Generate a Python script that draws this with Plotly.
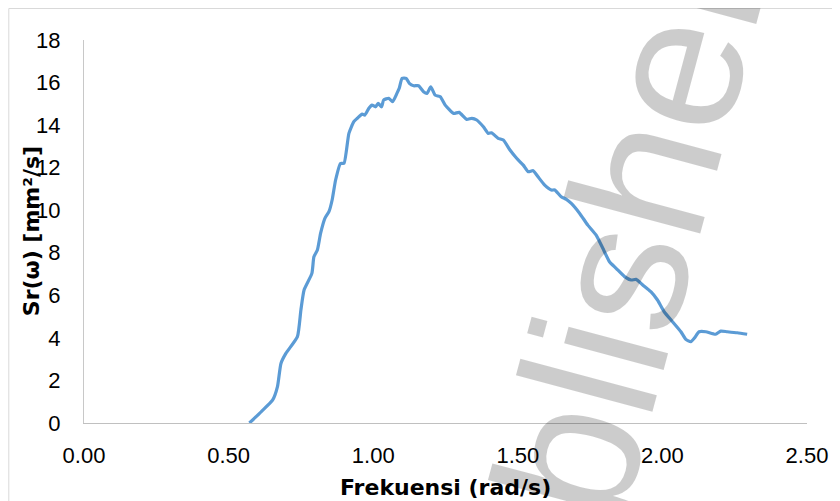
import plotly.graph_objects as go

freq = [0.572, 0.614, 0.652, 0.669, 0.681, 0.698, 0.738, 0.750, 0.761, 0.788,
        0.795, 0.807, 0.818, 0.833, 0.847, 0.858, 0.870, 0.887, 0.899, 0.916,
        0.933, 0.945, 0.962, 0.971, 0.985, 0.996, 1.008, 1.017, 1.029, 1.036,
        1.054, 1.067, 1.082, 1.090, 1.100, 1.114, 1.125, 1.140, 1.157, 1.174,
        1.186, 1.199, 1.214, 1.232, 1.249, 1.278, 1.297, 1.323, 1.341, 1.358,
        1.381, 1.398, 1.409, 1.432, 1.450, 1.473, 1.496, 1.519, 1.536, 1.553,
        1.570, 1.593, 1.616, 1.628, 1.650, 1.668, 1.685, 1.714, 1.742, 1.771,
        1.794, 1.817, 1.840, 1.869, 1.892, 1.909, 1.932, 1.960, 1.983, 2.006,
        2.035, 2.064, 2.081, 2.098, 2.110, 2.127, 2.150, 2.184, 2.202, 2.224,
        2.259, 2.293]
sr = [0.00, 0.55, 1.07, 1.71, 2.80, 3.27, 4.06, 5.31, 6.25, 7.03,
      7.81, 8.13, 8.91, 9.62, 9.93, 10.48, 11.42, 12.20, 12.20, 13.61,
      14.16, 14.32, 14.52, 14.47, 14.79, 14.94, 14.86, 15.02, 14.86, 15.18,
      15.26, 15.10, 15.49, 15.73, 16.20, 16.20, 15.96, 15.85, 15.85, 15.57,
      15.49, 15.80, 15.41, 15.33, 14.94, 14.55, 14.60, 14.27, 14.32, 14.24,
      13.92, 13.61, 13.64, 13.38, 13.30, 12.83, 12.44, 12.12, 11.81, 11.86,
      11.57, 11.18, 10.95, 10.95, 10.63, 10.51, 10.32, 9.85, 9.30, 8.83,
      8.21, 7.58, 7.27, 6.88, 6.72, 6.75, 6.49, 6.17, 5.78, 5.23,
      4.76, 4.29, 3.93, 3.82, 3.98, 4.29, 4.29, 4.17, 4.32, 4.29,
      4.24, 4.17]

x_ticks = [0.0, 0.5, 1.0, 1.5, 2.0, 2.5]
x_tick_labels = ["0.00", "0.50", "1.00", "1.50", "2.00", "2.50"]
y_ticks = [0, 2, 4, 6, 8, 10, 12, 14, 16, 18]

x_title = "Frekuensi (rad/s)"
y_title = "Sr(ω) [mm²/s]"
watermark = "Publisher"

# page body has an 8px margin, so the figure is drawn 8px smaller and offset
OFF = 8
W, H = 840 - OFF, 501 - OFF
ML, MR, MT, MB = 84 - OFF, 30, 40 - OFF, 78
PW, PH = W - ML - MR, H - MT - MB


def px_x(p):  # window pixel -> paper x
    return (p - OFF - ML) / PW


def px_y(p):  # window pixel -> paper y
    return (H - MB - (p - OFF)) / PH


fig = go.Figure()
fig.add_trace(go.Scatter(
    x=freq, y=sr, mode="lines",
    line=dict(color="#5B9BD5", width=3.2, shape="spline", smoothing=0.5),
    showlegend=False, hoverinfo="skip",
))

tick_font = dict(family="Liberation Sans, Arial, sans-serif", size=22, color="#000000")
title_font = dict(family="DejaVu Sans, Verdana, sans-serif", size=22, color="#000000")

fig.update_layout(
    width=W, height=H,
    margin=dict(l=ML, r=MR, t=MT, b=MB, pad=0),
    paper_bgcolor="white", plot_bgcolor="white",
    xaxis=dict(range=[0, 2.5], tickvals=x_ticks, ticktext=x_tick_labels,
               showgrid=False, zeroline=False, showline=True, linecolor="#c0c0c0",
               linewidth=1, ticks="outside", ticklen=13, tickcolor="rgba(0,0,0,0)",
               tickfont=tick_font, fixedrange=True),
    yaxis=dict(range=[0, 18], tickvals=y_ticks,
               showgrid=False, zeroline=False, showline=True, linecolor="#c8c8c8",
               linewidth=1, ticks="outside", ticklen=18, tickcolor="rgba(0,0,0,0)",
               tickfont=tick_font, fixedrange=True),
)

# chart outer border along the figure's left and top edges
fig.add_shape(type="rect", xref="paper", yref="paper",
              x0=px_x(8.5), y0=px_y(560), x1=px_x(900), y1=px_y(8.5),
              line=dict(color="#d9d9d9", width=1), fillcolor="rgba(0,0,0,0)",
              layer="below")

fig.add_annotation(text=f"<b>{x_title}</b>", xref="paper", yref="paper",
                   x=0.5, y=px_y(487), xanchor="center", yanchor="middle",
                   showarrow=False, font=title_font)
fig.add_annotation(text=f"<b>{y_title}</b>", xref="paper", yref="paper",
                   x=px_x(31), y=px_y(231), xanchor="center", yanchor="middle",
                   textangle=-90, showarrow=False, font=title_font)

fig.add_annotation(text=watermark, xref="paper", yref="paper",
                   x=px_x(601), y=px_y(349), xanchor="center", yanchor="middle",
                   textangle=-75, showarrow=False,
                   font=dict(family="Liberation Sans, Arial, sans-serif", size=195,
                             color="rgba(0,0,0,0.2)"))

fig.write_html("out.html")
